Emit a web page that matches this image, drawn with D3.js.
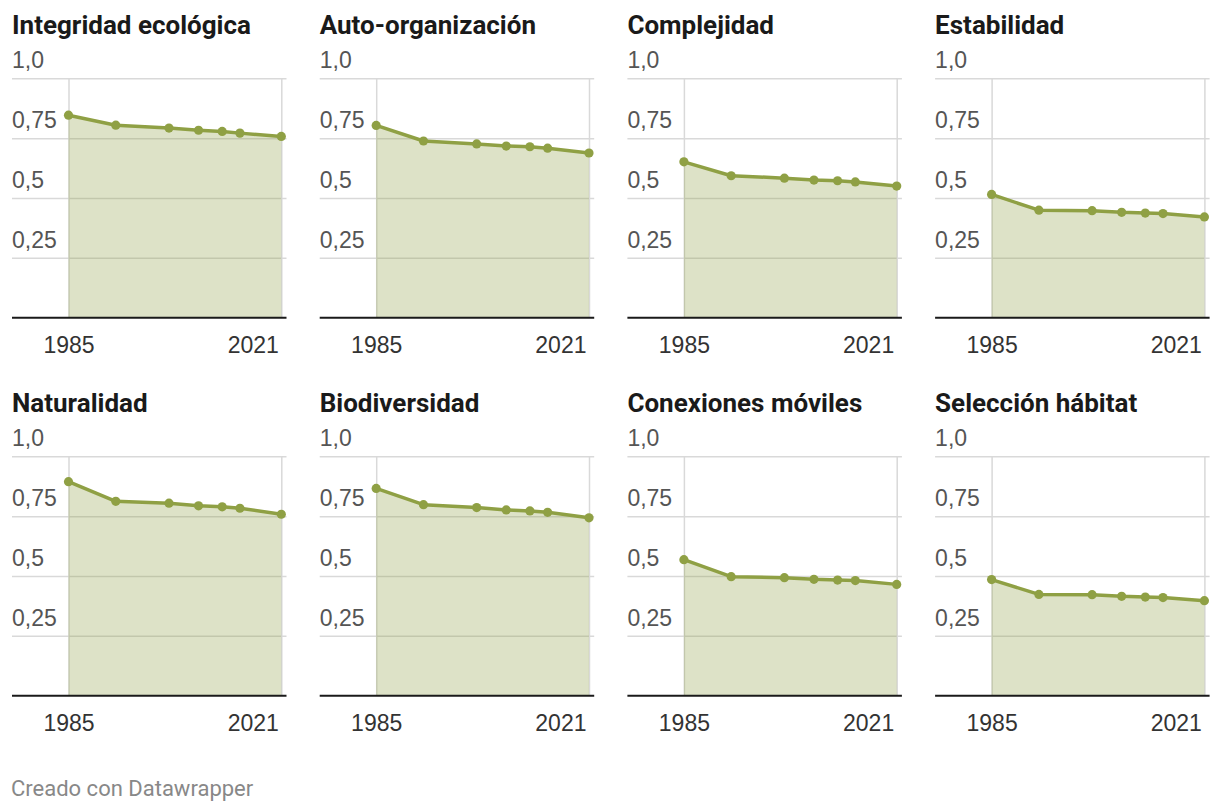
<!DOCTYPE html>
<html>
<head>
<meta charset="utf-8">
<script src="https://cdn.jsdelivr.net/npm/d3@7"></script>
<style>
  body { margin: 0; background: #fff; }
  svg { display: block; font-family: Roboto, "Noto Sans", sans-serif; }
  .title { font-weight: 700; font-size: 26px; fill: #1a1a1a; }
  .y-axis text { font-size: 23px; fill: #555; }
  .x-axis text { font-size: 23px; fill: #333; }
  .footer { font-size: 22px; fill: #888; }
</style>
</head>
<body>
<svg width="1220" height="812"></svg>
<script>
// years of the measurements
var years = [1985, 1993, 2002, 2007, 2011, 2014, 2021];

// one value list per small multiple
var integridad   = [0.846, 0.804, 0.792, 0.783, 0.778, 0.771, 0.757];
var autoorg      = [0.803, 0.738, 0.726, 0.717, 0.714, 0.708, 0.688];
var complejidad  = [0.651, 0.593, 0.583, 0.575, 0.572, 0.567, 0.550];
var estabilidad  = [0.515, 0.449, 0.447, 0.440, 0.437, 0.435, 0.421];
var naturalidad  = [0.894, 0.812, 0.804, 0.793, 0.789, 0.783, 0.758];
var biodiversidad = [0.866, 0.798, 0.786, 0.776, 0.772, 0.766, 0.743];
var conexiones   = [0.568, 0.497, 0.493, 0.486, 0.483, 0.481, 0.465];
var habitat      = [0.485, 0.423, 0.422, 0.415, 0.412, 0.410, 0.397];

var titles = ['Integridad ecológica', 'Auto-organización', 'Complejidad', 'Estabilidad',
              'Naturalidad', 'Biodiversidad', 'Conexiones móviles', 'Selección hábitat'];
var seriesValues = [integridad, autoorg, complejidad, estabilidad,
                    naturalidad, biodiversidad, conexiones, habitat];

// tick labels
var yTicks = [0.25, 0.5, 0.75, 1];
var yTickLabels = ['0,25', '0,5', '0,75', '1,0'];
var xTicks = [1985, 2021];

var svg = d3.select('svg');

// layout
var colStep = 307.7, rowStep = 378;
var panelLeft = 12, panelWidth = 274.5;
var plotL = 56.5, plotR = 269.3;
var plotTop = 78.3, plotBottom = 317.7;

var lineColor = '#8fa044';

var x = d3.scaleLinear().domain([1985, 2021]).range([plotL, plotR]);
var y = d3.scaleLinear().domain([0, 1]).range([plotBottom, plotTop]);

var area = d3.area()
    .x(function (d) { return x(d.year); })
    .y0(y(0))
    .y1(function (d) { return y(d.value); });

var line = d3.line()
    .x(function (d) { return x(d.year); })
    .y(function (d) { return y(d.value); });

titles.forEach(function (title, i) {
    var col = i % 4, row = Math.floor(i / 4);
    var g = svg.append('g')
        .attr('transform', 'translate(' + (panelLeft + col * colStep) + ',' + (row * rowStep) + ')');

    var data = years.map(function (yr, j) {
        return { year: yr, value: seriesValues[i][j] };
    });

    g.append('text')
        .attr('class', 'title')
        .attr('x', 0)
        .attr('y', 34)
        .text(title);

    // horizontal grid + labels
    var yAxis = d3.axisRight(y)
        .tickValues(yTicks)
        .tickSize(panelWidth)
        .tickFormat(function (d, k) { return yTickLabels[k]; });
    var ya = g.append('g').attr('class', 'y-axis').call(yAxis);
    ya.select('.domain').remove();
    ya.selectAll('line').attr('stroke', '#d9d9d9').attr('stroke-width', 1.5);
    ya.selectAll('text')
        .attr('x', 0)
        .attr('dy', -10.5)
        .attr('text-anchor', 'start');

    // vertical grid at the tick years
    var xGrid = d3.axisBottom(x)
        .tickValues(xTicks)
        .tickSize(-(plotBottom - plotTop))
        .tickFormat('');
    var xg = g.append('g').attr('transform', 'translate(0,' + plotBottom + ')').call(xGrid);
    xg.select('.domain').remove();
    xg.selectAll('line').attr('stroke', '#d9d9d9').attr('stroke-width', 1.5);

    g.append('path')
        .datum(data)
        .attr('d', area)
        .attr('fill', lineColor)
        .attr('fill-opacity', 0.3);

    // baseline
    g.append('line')
        .attr('x1', 0)
        .attr('x2', panelWidth)
        .attr('y1', y(0))
        .attr('y2', y(0))
        .attr('stroke', '#1a1a1a')
        .attr('stroke-width', 2);

    g.append('path')
        .datum(data)
        .attr('d', line)
        .attr('fill', 'none')
        .attr('stroke', lineColor)
        .attr('stroke-width', 3.5)
        .attr('stroke-linejoin', 'round');

    g.selectAll('.dot')
        .data(data)
        .enter()
        .append('circle')
        .attr('class', 'dot')
        .attr('cx', function (d) { return x(d.year); })
        .attr('cy', function (d) { return y(d.value); })
        .attr('r', 4.6)
        .attr('fill', lineColor);

    // year labels
    var xAxis = d3.axisBottom(x)
        .tickValues(xTicks)
        .tickSize(0)
        .tickPadding(0)
        .tickFormat(d3.format('d'));
    var xa = g.append('g').attr('class', 'x-axis')
        .attr('transform', 'translate(0,' + plotBottom + ')')
        .call(xAxis);
    xa.select('.domain').remove();
    xa.selectAll('text')
        .attr('y', 35)
        .attr('dy', 0)
        .attr('text-anchor', function (d) { return d === 2021 ? 'end' : 'middle'; })
        .attr('dx', function (d) { return d === 2021 ? -3 : 0; });
});

svg.append('text')
    .attr('class', 'footer')
    .attr('x', 11)
    .attr('y', 796)
    .text('Creado con Datawrapper');
</script>
</body>
</html>
